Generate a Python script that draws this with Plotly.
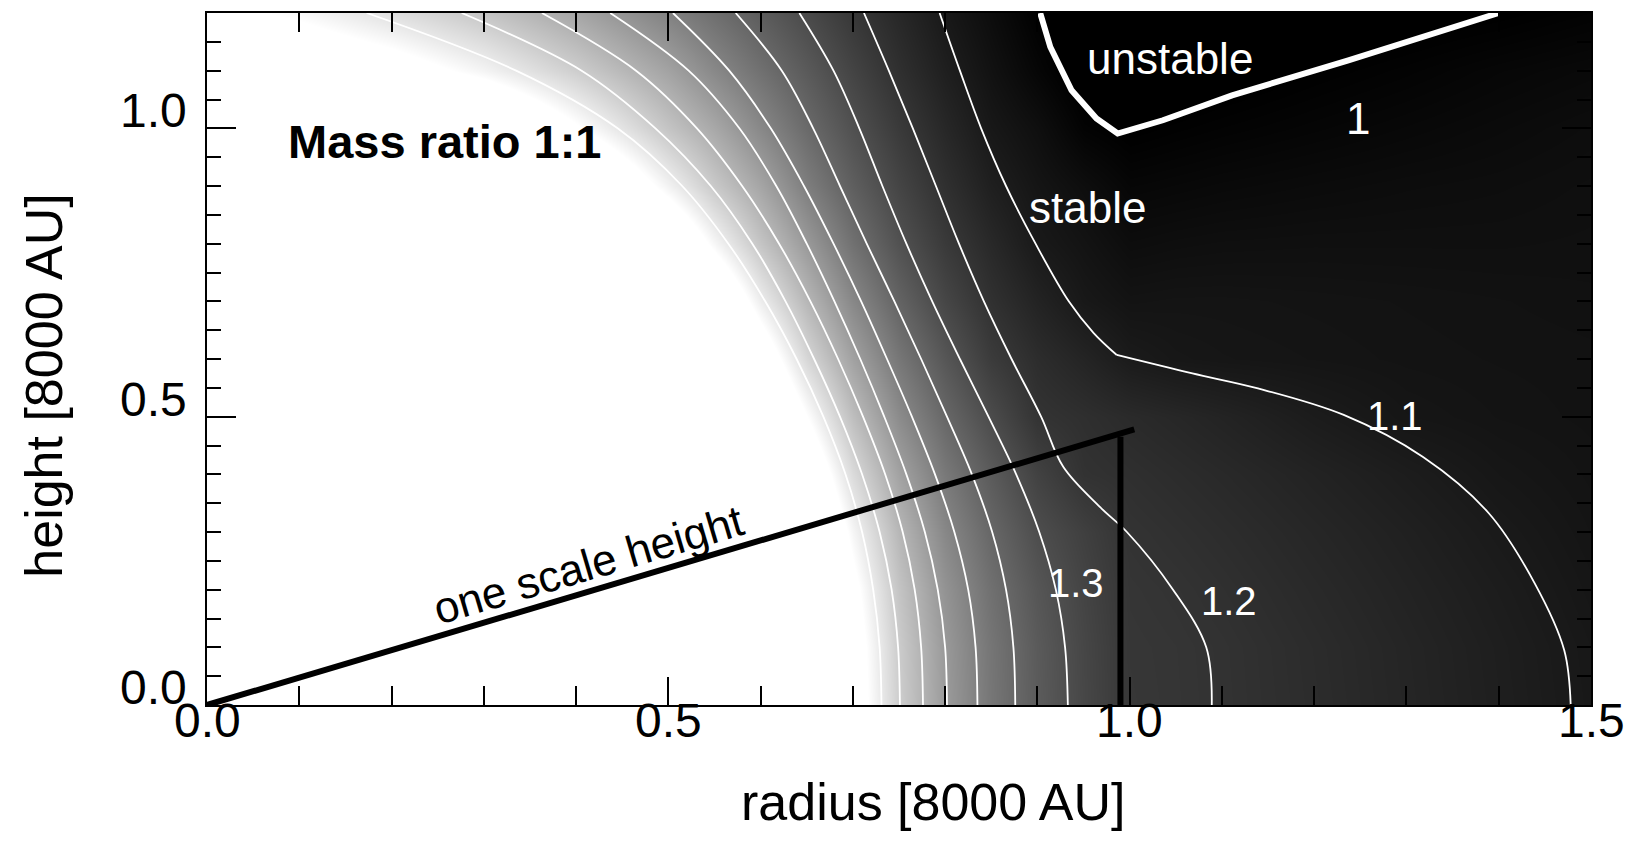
import plotly.graph_objects as go

# ---------------- data ----------------
# stability field on a radius x height grid (background shading)
radius = [0.0, 0.1, 0.2, 0.3, 0.4, 0.5, 0.55, 0.6, 0.65, 0.7, 0.75, 0.8,
          0.85, 0.9, 0.95, 1.0, 1.05, 1.1, 1.2, 1.3, 1.4, 1.5]
height = [0.0, 0.1, 0.2, 0.3, 0.4, 0.5, 0.6, 0.7, 0.8, 0.9, 1.0, 1.1, 1.2]

stab_z00 = [2.5, 2.5, 2.5, 2.5, 2.5, 2.5, 2.5, 2.5, 2.4, 2.094, 1.805, 1.608, 1.463, 1.358, 1.278, 1.215, 1.207, 1.197, 1.172, 1.146, 1.12, 1.094]
stab_z01 = [2.5, 2.5, 2.5, 2.5, 2.5, 2.5, 2.5, 2.5, 2.39, 2.081, 1.796, 1.6, 1.459, 1.354, 1.275, 1.213, 1.206, 1.196, 1.17, 1.144, 1.118, 1.092]
stab_z02 = [2.5, 2.5, 2.5, 2.5, 2.5, 2.5, 2.5, 2.5, 2.35, 2.04, 1.768, 1.576, 1.439, 1.337, 1.266, 1.208, 1.199, 1.187, 1.161, 1.136, 1.111, 1.086]
stab_z03 = [2.5, 2.5, 2.5, 2.5, 2.5, 2.5, 2.5, 2.5, 2.275, 1.9625, 1.716, 1.531, 1.402, 1.304, 1.249, 1.199, 1.187, 1.175, 1.15, 1.126, 1.101, 1.08]
stab_z04 = [2.5, 2.5, 2.5, 2.5, 2.5, 2.5, 2.5, 2.45, 2.15, 1.856, 1.635, 1.4725, 1.356, 1.258, 1.196, 1.184, 1.172, 1.16, 1.135, 1.111, 1.088, 1.075]
stab_z05 = [2.5, 2.5, 2.5, 2.5, 2.5, 2.5, 2.5, 2.275, 2.001, 1.744, 1.547, 1.405, 1.295, 1.2015, 1.183, 1.165, 1.152, 1.138, 1.108, 1.085, 1.076, 1.071]
stab_z06 = [2.5, 2.5, 2.5, 2.5, 2.5, 2.5, 2.39, 2.115, 1.842, 1.633, 1.465, 1.338, 1.232, 1.175, 1.141, 1.104, 1.09, 1.085, 1.08, 1.075, 1.072, 1.07]
stab_z07 = [2.5, 2.5, 2.5, 2.5, 2.5, 2.5, 2.20, 1.928, 1.715, 1.531, 1.388, 1.275, 1.191, 1.137, 1.094, 1.075, 1.078, 1.078, 1.075, 1.072, 1.069, 1.066]
stab_z08 = [2.5, 2.5, 2.5, 2.5, 2.5, 2.2, 1.971, 1.769, 1.601, 1.442, 1.319, 1.226, 1.158, 1.099, 1.0745, 1.05, 1.055, 1.058, 1.06, 1.06, 1.06, 1.062]
stab_z09 = [2.5, 2.5, 2.5, 2.5, 2.29, 1.952, 1.788, 1.646, 1.492, 1.370, 1.269, 1.187, 1.121, 1.081, 1.053, 1.025, 1.03, 1.035, 1.042, 1.048, 1.052, 1.058]
stab_z10 = [2.5, 2.5, 2.4, 2.265, 2.015, 1.769, 1.659, 1.532, 1.415, 1.314, 1.226, 1.153, 1.0925, 1.0585, 1.012, 0.997, 1.004, 1.01, 1.02, 1.03, 1.04, 1.05]
stab_z11 = [2.25, 2.16, 2.08, 1.959, 1.808, 1.639, 1.536, 1.440, 1.352, 1.265, 1.186, 1.121, 1.069, 1.024, 0.985, 0.975, 0.98, 0.988, 1.001, 1.012, 1.025, 1.035]
stab_z12 = [2.04, 1.975, 1.874, 1.772, 1.65, 1.507, 1.434, 1.361, 1.289, 1.217, 1.154, 1.0945, 1.049, 1.003, 0.975, 0.955, 0.965, 0.97, 0.98, 0.99, 0.998, 1.01]

stability = [stab_z00, stab_z01, stab_z02, stab_z03, stab_z04, stab_z05, stab_z06,
             stab_z07, stab_z08, stab_z09, stab_z10, stab_z11, stab_z12]

# traced iso-lines of the stability value (radius at each height)
iso_height = [0.0, 0.1, 0.2, 0.3, 0.4, 0.5, 0.6, 0.7, 0.8, 0.9, 1.0, 1.1, 1.2]
iso_19 = [0.731, 0.729, 0.722, 0.710, 0.692, 0.668, 0.639, 0.605, 0.565, 0.515, 0.445, 0.335, 0.173]
iso_18 = [0.751, 0.749, 0.742, 0.729, 0.710, 0.686, 0.658, 0.627, 0.591, 0.546, 0.486, 0.406, 0.276]
iso_17 = [0.776, 0.774, 0.767, 0.754, 0.735, 0.711, 0.684, 0.654, 0.620, 0.580, 0.531, 0.465, 0.363]
iso_16 = [0.802, 0.800, 0.792, 0.778, 0.758, 0.734, 0.708, 0.680, 0.650, 0.617, 0.577, 0.522, 0.437]
iso_15 = [0.835, 0.833, 0.825, 0.810, 0.789, 0.764, 0.737, 0.709, 0.679, 0.647, 0.611, 0.566, 0.505]
iso_14 = [0.876, 0.874, 0.866, 0.851, 0.829, 0.802, 0.774, 0.745, 0.715, 0.686, 0.657, 0.623, 0.573]
iso_13 = [0.933, 0.930, 0.920, 0.902, 0.877, 0.847, 0.816, 0.786, 0.758, 0.732, 0.707, 0.679, 0.642]

iso_12_r = [1.089, 1.083, 1.047, 0.997, 0.968, 0.928, 0.904, 0.872, 0.842, 0.815, 0.790, 0.765, 0.739, 0.712]
iso_12_z = [0.0, 0.1, 0.2, 0.3, 0.343, 0.413, 0.5, 0.6, 0.7, 0.8, 0.9, 1.0, 1.1, 1.2]

iso_11_upper_r = [0.794, 0.816, 0.839, 0.866, 0.898, 0.934, 0.961, 0.986]
iso_11_upper_z = [1.2, 1.1, 1.0, 0.9, 0.8, 0.7, 0.645, 0.607]
iso_11_lower_r = [0.986, 1.068, 1.139, 1.232, 1.318, 1.389, 1.439, 1.471, 1.478]
iso_11_lower_z = [0.607, 0.575, 0.549, 0.503, 0.430, 0.333, 0.211, 0.095, 0.0]

iso_10_r = [0.903, 0.914, 0.937, 0.964, 0.987, 1.036, 1.111, 1.237, 1.400]
iso_10_z = [1.2, 1.141, 1.066, 1.017, 0.991, 1.014, 1.057, 1.118, 1.2]

# "one scale height" guide: from the origin up to (1, scale height)
scale_height_r = [0.0, 1.005]
scale_height_z = [0.0, 0.478]
radius_one_r = [0.99, 0.99]
radius_one_z = [0.0, 0.465]

x_tick_vals = [0.0, 0.5, 1.0, 1.5]
x_tick_text = ["0.0", "0.5", "1.0", "1.5"]
y_tick_vals = [0.0, 0.5, 1.0]
y_tick_text = ["0.0", "0.5", "1.0"]

label_text = ["unstable", "1", "stable", "1.1", "1.2", "1.3"]
label_r = [1.044, 1.247, 0.954, 1.2875, 1.108, 0.942]
label_z = [1.121, 1.017, 0.863, 0.501, 0.180, 0.211]
label_size = [44, 44, 44, 40, 40, 40]

FONT = "Liberation Sans, Arial, Helvetica, sans-serif"

fig = go.Figure()

# background shading of the stability value
fig.add_trace(go.Contour(
    x=radius, y=height, z=stability,
    autocontour=False,
    contours=dict(start=1.1, end=2.0, size=0.1, coloring="heatmap", showlines=False),
    line=dict(width=0),
    colorscale=[[0.0, "#000000"], [1.0, "#ffffff"]],
    zauto=False, zmin=1.0, zmax=2.0,
    showscale=False, hoverinfo="skip",
))

thin = dict(color="white", width=1.8, shape="spline", smoothing=1.0)
for iso in [iso_19, iso_18, iso_17, iso_16, iso_15, iso_14, iso_13]:
    fig.add_trace(go.Scatter(x=iso, y=iso_height, mode="lines", line=thin, hoverinfo="skip"))
fig.add_trace(go.Scatter(x=iso_12_r, y=iso_12_z, mode="lines", line=thin, hoverinfo="skip"))
fig.add_trace(go.Scatter(x=iso_11_upper_r, y=iso_11_upper_z, mode="lines", line=thin, hoverinfo="skip"))
fig.add_trace(go.Scatter(x=iso_11_lower_r, y=iso_11_lower_z, mode="lines", line=thin, hoverinfo="skip"))
fig.add_trace(go.Scatter(x=iso_10_r, y=iso_10_z, mode="lines",
                         line=dict(color="white", width=6), hoverinfo="skip"))

fig.add_trace(go.Scatter(x=scale_height_r, y=scale_height_z, mode="lines",
                         line=dict(color="black", width=6), hoverinfo="skip"))
fig.add_trace(go.Scatter(x=radius_one_r, y=radius_one_z, mode="lines",
                         line=dict(color="black", width=6), hoverinfo="skip"))

annotations = []
for v, t in zip(x_tick_vals, x_tick_text):
    annotations.append(dict(x=v, xref="x", y=0, yref="paper", yanchor="top",
                            xanchor="center", yshift=13, text=t, showarrow=False,
                            font=dict(family=FONT, size=48, color="black")))
for v, t in zip(y_tick_vals, y_tick_text):
    annotations.append(dict(x=0, xref="paper", xanchor="right", xshift=-18,
                            y=v, yref="y", yanchor="bottom", yshift=-11,
                            text=t, showarrow=False,
                            font=dict(family=FONT, size=48, color="black")))

annotations.append(dict(x=0.5243, xref="paper", y=-0.1402, yref="paper",
                        xanchor="center", yanchor="middle", text="radius [8000 AU]",
                        showarrow=False, font=dict(family=FONT, size=52, color="black")))
annotations.append(dict(x=-0.118, xref="paper", y=0.4624, yref="paper",
                        xanchor="center", yanchor="middle", textangle=-90,
                        text="height [8000 AU]", showarrow=False,
                        font=dict(family=FONT, size=52, color="black")))

annotations.append(dict(x=0.2572, y=0.978, xref="x", yref="y", text="<b>Mass ratio 1:1</b>",
                        showarrow=False, font=dict(family=FONT, size=47, color="black")))
for t, r, z, s in zip(label_text, label_r, label_z, label_size):
    annotations.append(dict(x=r, y=z, xref="x", yref="y", text=t, showarrow=False,
                            font=dict(family=FONT, size=s, color="white")))
annotations.append(dict(x=0.413, y=0.244, xref="x", yref="y", text="one scale height",
                        textangle=-16.5, showarrow=False,
                        font=dict(family=FONT, size=44, color="black")))

axis_common = dict(showgrid=False, zeroline=False, showline=True, linecolor="black",
                   linewidth=2, mirror="ticks", ticks="inside", tickwidth=2,
                   tickcolor="black", showticklabels=False)

fig.update_layout(
    width=1632, height=844,
    margin=dict(l=207, r=41, t=13, b=139),
    paper_bgcolor="white", plot_bgcolor="white",
    showlegend=False,
    font=dict(family=FONT, color="black"),
    xaxis=dict(range=[0, 1.5], tickvals=x_tick_vals, ticklen=28,
               minor=dict(dtick=0.1, tick0=0, ticks="inside", ticklen=19,
                          tickwidth=2, tickcolor="black", showgrid=False),
               **axis_common),
    yaxis=dict(range=[0, 1.2], tickvals=y_tick_vals, ticklen=29,
               minor=dict(dtick=0.05, tick0=0, ticks="inside", ticklen=14,
                          tickwidth=2, tickcolor="black", showgrid=False),
               **axis_common),
    annotations=annotations,
)

fig.write_html("out.html")
